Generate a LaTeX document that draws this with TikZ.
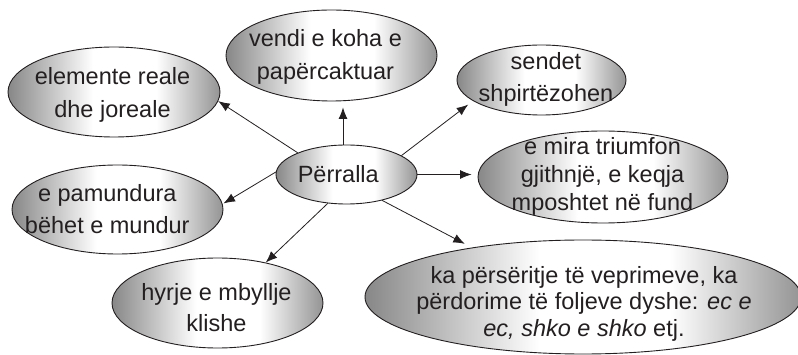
\documentclass[tikz,border=0pt]{standalone}
\usepackage{fontspec}
\setmainfont{Liberation Sans}
\usetikzlibrary{shapes.geometric,arrows.meta}
\definecolor{ink}{HTML}{231F20}
\pgfdeclarehorizontalshading{bubshade}{100bp}{color(0bp)=(black!47); color(25bp)=(black!47); color(45bp)=(white); color(60bp)=(white); color(75bp)=(black!42); color(100bp)=(black!42)}
\newcommand{\mystrut}{\rule[-0.3\baselineskip]{0pt}{\baselineskip}}
\tikzset{
  bubble/.style={ellipse, draw=ink, line width=0.9pt, shading=bubshade, inner sep=0pt},
  txt/.style={inner sep=0pt, align=center, text=ink, font=\fontsize{23.5}{33}\selectfont},
  tighttxt/.style={txt, font=\fontsize{23.5}{27.5}\selectfont},
  arr/.style={-{Latex[length=11.5pt,width=9pt]}, line width=0.8pt, draw=ink}
}
\begin{document}
\begin{tikzpicture}[x=1pt,y=-1pt]
\useasboundingbox (0,0) rectangle (798,355);
\clip (0,0) rectangle (798,355);
% ellipses
\node[bubble, minimum width=212pt, minimum height=90pt] (e1) at (114,92) {};
\node[bubble, minimum width=211pt, minimum height=91pt] (e2) at (331.5,55.5) {};
\node[bubble, minimum width=169pt, minimum height=70pt] (e3) at (541.5,80) {};
\node[bubble, minimum width=250pt, minimum height=92pt] (e4) at (603,177) {};
\node[bubble, minimum width=141pt, minimum height=59pt] (p) at (346.5,174.5) {};
\node[bubble, minimum width=211pt, minimum height=89pt] (e5) at (117.5,209.5) {};
\node[bubble, minimum width=211pt, minimum height=90pt] (e7) at (217.5,303) {};
\node[bubble, minimum width=436pt, minimum height=114pt] (e8) at (583,297) {};
% texts
\node[txt] (t1) at (112.5,94.2) {\mystrut elemente reale\\\mystrut dhe joreale};
\node[txt] (t2) at (325.5,56.6) {\mystrut vendi e koha e\\\mystrut papërcaktuar};
\node[txt, font=\fontsize{23.5}{32}\selectfont] (t3) at (546,79.6) {\mystrut sendet\\\mystrut shpirtëzohen};
\node[tighttxt, font=\fontsize{23.5}{28}\selectfont] (t4) at (602.5,176.7) {\mystrut e mira triumfon\\\mystrut gjithnjë, e keqja\\\mystrut mposhtet në fund};
\node[txt] (tp) at (338.3,176.1) {\mystrut Përralla};
\node[txt, font=\fontsize{23.5}{32}\selectfont] (t5) at (107.3,211.3) {\mystrut e pamundura\\\mystrut bëhet e mundur};
\node[txt, font=\fontsize{23.5}{32}\selectfont] (t7) at (216.5,309.6) {\mystrut hyrje e mbyllje\\\mystrut klishe};
\node[tighttxt, font=\fontsize{23.5}{26.5}\selectfont] (t8) at (584,304.5) {\mystrut ka përsëritje të veprimeve, ka\\\mystrut përdorime të foljeve dyshe: \textit{ec e}\\\mystrut \textit{ec, shko e shko} etj.};
% connectors
\draw[arr] (p.156.4) -- (e1.355.6);
\draw[arr, shorten >=6pt] ([xshift=-3.5pt]p.north) -- ([xshift=-3.5pt]p.north |- e2.south);
\draw[arr, shorten >=6pt] (p.19) -- (e3.197);
\draw[arr, shorten >=6pt] (p.east) -- (p.east -| e4.west);
\draw[arr, shorten >=1pt] (p.178.8) -- (e5.3.8);
\draw[arr] (p.237.4) -- (e7.40.5);
\draw[arr, shorten >=8pt] (p.324.5) -- (e8.156);
\end{tikzpicture}
\end{document}
